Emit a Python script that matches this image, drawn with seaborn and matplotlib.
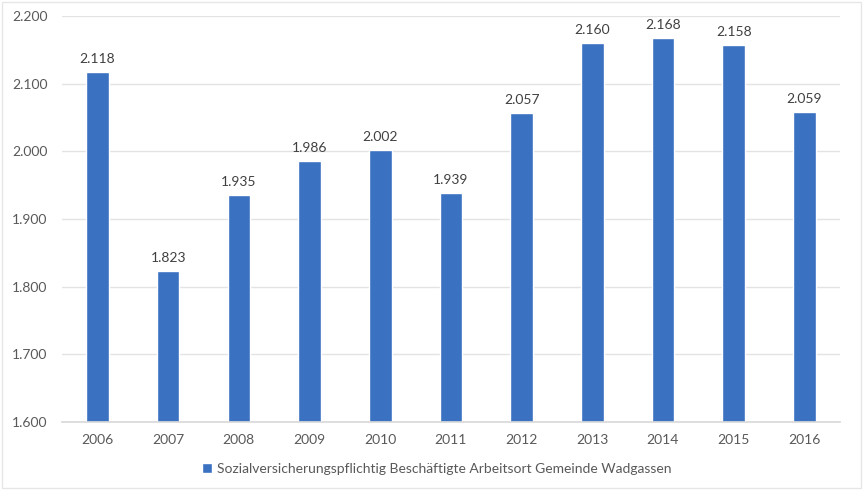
import matplotlib
matplotlib.use("Agg")
import matplotlib.pyplot as plt
import seaborn as sns
import pandas as pd
from matplotlib.ticker import FuncFormatter, MultipleLocator
from matplotlib.patches import Rectangle

years = ["2006", "2007", "2008", "2009", "2010", "2011", "2012", "2013", "2014", "2015", "2016"]
employees = [2118, 1823, 1935, 1986, 2002, 1939, 2057, 2160, 2168, 2158, 2059]
series_name = "Sozialversicherungspflichtig Beschäftigte Arbeitsort Gemeinde Wadgassen"

df = pd.DataFrame({"Jahr": years, "Wert": employees, "Reihe": series_name})

sns.set_theme(style="white")
plt.rcParams["font.family"] = ["Lato", "DejaVu Sans"]

bar_color = "#3a71c1"
text_color = "#595959"

fig = plt.figure(figsize=(8.63, 4.90), dpi=100)
ax = fig.add_axes([0.072, 0.139, 0.901, 0.828])

sns.barplot(data=df, x="Jahr", y="Wert", hue="Reihe", palette=[bar_color],
            width=0.32, ax=ax, saturation=1)

ax.set_ylim(1600, 2200)
ax.yaxis.set_major_locator(MultipleLocator(100))
ax.yaxis.set_major_formatter(FuncFormatter(lambda v, p: f"{int(v):,}".replace(",", ".")))
ax.grid(axis="y", color="#e3e3e3", linewidth=1)
ax.set_axisbelow(True)
for s in ["top", "right", "left"]:
    ax.spines[s].set_visible(False)
ax.spines["bottom"].set_color("#d9d9d9")
ax.tick_params(axis="both", colors=text_color, labelsize=10, length=0)
ax.tick_params(axis="x", pad=9)
ax.tick_params(axis="y", pad=36)
for lbl in ax.get_yticklabels():
    lbl.set_horizontalalignment("left")
ax.set_xlabel("")
ax.set_ylabel("")

for cont in ax.containers:
    labels = [f"{int(v):,}".replace(",", ".") for v in cont.datavalues]
    ax.bar_label(cont, labels=labels, padding=5, fontsize=10, color="#404040")

leg = ax.legend(loc="upper center", bbox_to_anchor=(0.482, -0.07), frameon=False,
                fontsize=10, handlelength=0.7, handleheight=0.7, handletextpad=0.4)
for t in leg.get_texts():
    t.set_color(text_color)

fig.patches.append(Rectangle((0.002, 0.004), 0.996, 0.992, transform=fig.transFigure,
                             fill=False, edgecolor="#e6e6e6", linewidth=1))

fig.savefig("out.png", dpi=100)
